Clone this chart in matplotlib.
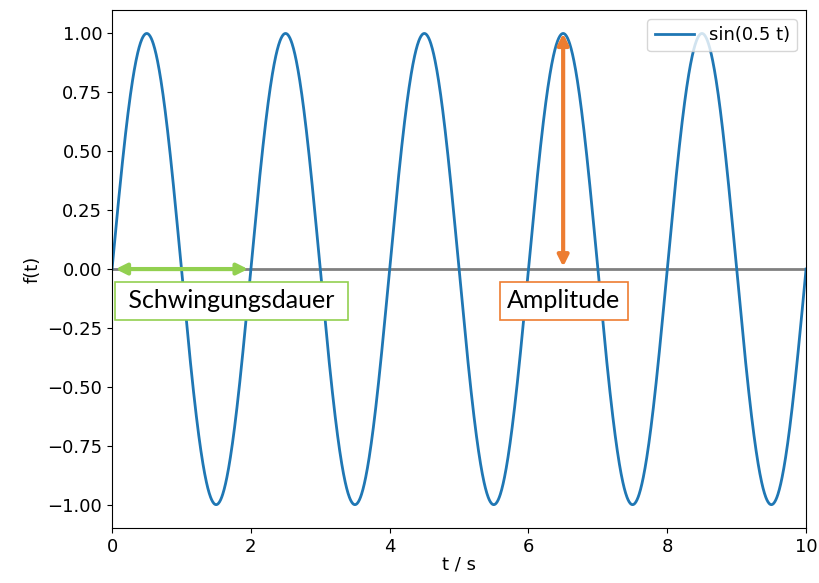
import numpy as np
import matplotlib
matplotlib.use('Agg')
import matplotlib.pyplot as plt

# curve parameters: peaks at 0.5, 2.5, ... -> period 2 s
amplitude = 1.0
period = 2.0
t_start, t_end = 0.0, 10.0
legend_label = "sin(0.5 t)"

# annotations
period_arrow = (0.05, 1.96)     # t range of the green arrow
amp_arrow_t = 6.5
amp_arrow_y = (0.01, 1.0)
period_text = (" Schwingungsdauer ", 1.72, -0.135)
amp_text = ("Amplitude", 6.51, -0.135)

yticks = [-1.0, -0.75, -0.5, -0.25, 0.0, 0.25, 0.5, 0.75, 1.0]
xticks = [0, 2, 4, 6, 8, 10]

t = np.linspace(t_start, t_end, 2001)
f = amplitude * np.sin(2 * np.pi / period * t)

fig = plt.figure(figsize=(8.19, 5.83), dpi=100)
ax = fig.add_axes([0.1368, 0.094, 0.8474, 0.889])

ax.axhline(0, color='#808080', lw=2, zorder=1)
ax.plot(t, f, color='#1f77b4', lw=2, label=legend_label, zorder=2)

ax.set_xlim(t_start, t_end)
ax.set_ylim(-1.1, 1.1)
ax.set_xticks(xticks)
ax.set_yticks(yticks)
ax.set_yticklabels(['\u22121.00', '\u22120.75', '\u22120.50', '\u22120.25',
                    '0.00', '0.25', '0.50', '0.75', '1.00'])
ax.tick_params(labelsize=13)
ax.set_xlabel('t / s', fontsize=13, labelpad=0)
ax.set_ylabel('f(t)', fontsize=13)

ax.legend(loc='upper right', fontsize=13, handlelength=2.2)

# green double arrow (Schwingungsdauer)
ax.annotate('', xy=(period_arrow[1], 0), xytext=(period_arrow[0], 0),
            arrowprops=dict(arrowstyle='<|-|>', color='#92D050', lw=3,
                            mutation_scale=16, shrinkA=0, shrinkB=0), zorder=3)
# orange double arrow (Amplitude)
ax.annotate('', xy=(amp_arrow_t, amp_arrow_y[1]), xytext=(amp_arrow_t, amp_arrow_y[0]),
            arrowprops=dict(arrowstyle='<|-|>', color='#ED7D31', lw=3,
                            mutation_scale=16, shrinkA=0, shrinkB=0), zorder=3)

# text boxes; the green one has a little more room at the sides
ax.text(period_text[1], period_text[2], period_text[0], fontsize=18,
        family=['Lato', 'DejaVu Sans'], ha='center', va='center', zorder=4,
        bbox=dict(boxstyle='square,pad=0.3', fc='white', ec='#92D050', lw=1.2))
ax.text(amp_text[1], amp_text[2], amp_text[0], fontsize=18,
        family=['Lato', 'DejaVu Sans'], ha='center', va='center', zorder=4,
        bbox=dict(boxstyle='square,pad=0.3', fc='white', ec='#ED7D31', lw=1.2))

fig.savefig('out.png', dpi=100)
